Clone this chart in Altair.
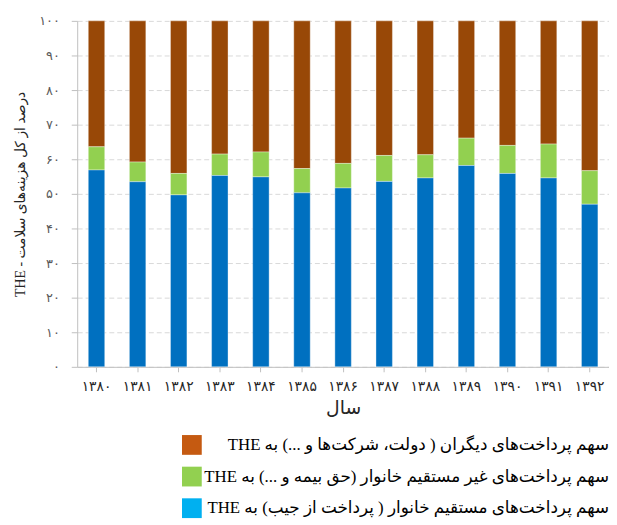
import altair as alt
import pandas as pd

years = ["۱۳۸۰", "۱۳۸۱", "۱۳۸۲", "۱۳۸۳", "۱۳۸۴", "۱۳۸۵", "۱۳۸۶",
         "۱۳۸۷", "۱۳۸۸", "۱۳۸۹", "۱۳۹۰", "۱۳۹۱", "۱۳۹۲"]
out_of_pocket = [56.9, 53.5, 49.7, 55.3, 54.9, 50.3, 51.7, 53.6, 54.6, 58.2, 55.9, 54.6, 47.0]
indirect_household = [6.7, 5.7, 6.2, 6.2, 7.2, 7.0, 7.1, 7.5, 6.7, 7.9, 8.1, 9.8, 9.7]
others = [36.4, 40.8, 44.1, 38.5, 37.9, 42.7, 41.2, 38.9, 38.7, 33.9, 36.0, 35.6, 43.3]

series_names = [
    "سهم پرداخت‌های دیگران ( دولت، شرکت‌ها و ...) به THE",
    "سهم پرداخت‌های غیر مستقیم خانوار (حق بیمه و ...) به THE",
    "سهم پرداخت‌های مستقیم خانوار ( پرداخت از جیب) به THE",
]
bar_colors = ["#984807", "#92D050", "#0070C0"]
legend_colors = ["#C55A11", "#92D050", "#00B0F0"]
stack_order = [3, 2, 1]

y_ticks = [0, 10, 20, 30, 40, 50, 60, 70, 80, 90, 100]
y_tick_labels = ["۰", "۱۰", "۲۰", "۳۰", "۴۰", "۵۰", "۶۰", "۷۰", "۸۰", "۹۰", "۱۰۰"]

y_title = "\u202Bدرصد  از کل هزینه‌های سلامت - THE\u202C"
x_title = "سال"

rows = []
for i, yr in enumerate(years):
    for s, vals in zip(series_names, [others, indirect_household, out_of_pocket]):
        rows.append({"year": yr, "series": s, "value": vals[i],
                     "ord": stack_order[series_names.index(s)]})
df = pd.DataFrame(rows)

font = "Liberation Serif, DejaVu Sans"
label_expr = "[" + ",".join("'%s'" % t for t in y_tick_labels) + "][round(datum.value/10)]"

bars = alt.Chart(df).mark_bar(stroke="#ffffff", strokeWidth=0.6, strokeOpacity=0.6).encode(
    x=alt.X("year:N", sort=years,
            scale=alt.Scale(paddingInner=0.6, paddingOuter=0.27),
            axis=alt.Axis(title=x_title, labelAngle=0, labelFontSize=14, labelColor="#262626",
                          labelFont=font, titleFont=font, titleFontSize=19,
                          titleFontWeight="normal", titleColor="#262626",
                          labelPadding=8, titlePadding=5, tickSize=5,
                          tickColor="#bfbfbf", domainColor="#bfbfbf", grid=False)),
    y=alt.Y("value:Q", stack="zero",
            scale=alt.Scale(domain=[0, 100], nice=False),
            axis=alt.Axis(values=y_ticks, labelExpr=label_expr, title=y_title,
                          labelFontSize=13, labelColor="#595959", labelFont=font,
                          titleFont=font, titleFontSize=14, titleFontWeight="normal",
                          titleColor="#262626", titlePadding=11, labelPadding=12,
                          tickSize=6, tickColor="#bfbfbf", domainColor="#bfbfbf",
                          gridColor="#d9d9d9", gridDash=[5, 3])),
    color=alt.Color("series:N", scale=alt.Scale(domain=series_names, range=bar_colors), legend=None),
    order=alt.Order("ord:Q"),
).properties(width=538, height=350)

leg_df = pd.DataFrame({"series": series_names, "label": ["\u202B" + s + "\u202C" for s in series_names]})

leg_sq = alt.Chart(leg_df).mark_square(size=400, opacity=1).encode(
    x=alt.value(116),
    y=alt.Y("series:N", sort=series_names, axis=None),
    color=alt.Color("series:N", scale=alt.Scale(domain=series_names, range=legend_colors), legend=None),
)
leg_txt = alt.Chart(leg_df).mark_text(align="right", baseline="middle", font=font,
                                      fontSize=17, color="#000000").encode(
    x=alt.value(538),
    y=alt.Y("series:N", sort=series_names, axis=None),
    text="label:N",
)
legend = alt.layer(leg_sq, leg_txt).properties(width=538, height=96)

chart = alt.vconcat(bars, legend, spacing=12).resolve_scale(color="independent").configure(
    padding={"left": 6, "top": 4, "right": 0, "bottom": 0}
).configure_view(strokeWidth=0)

chart.save("out.html", embed_options={"renderer": "svg", "actions": False})
